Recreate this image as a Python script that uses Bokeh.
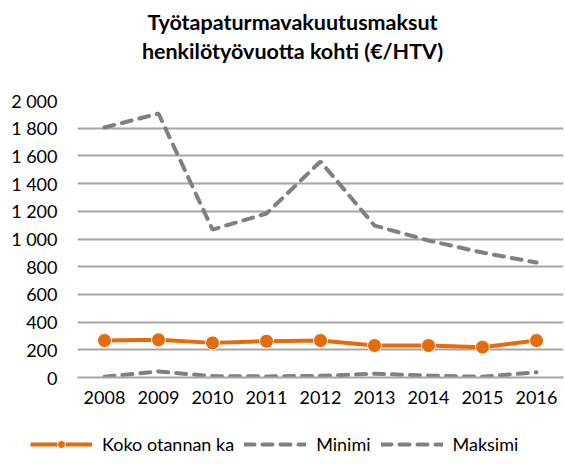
from bokeh.plotting import figure
from bokeh.layouts import column
from bokeh.models import FixedTicker, Label, Legend, LegendItem
from bokeh.embed import file_html
from bokeh.resources import INLINE

years = ["2008", "2009", "2010", "2011", "2012", "2013", "2014", "2015", "2016"]
koko_ka = [267, 272, 250, 262, 267, 231, 231, 219, 267]
minimi = [5, 43, 10, 8, 12, 27, 14, 5, 38]
maksimi = [1805, 1906, 1068, 1184, 1560, 1097, 989, 902, 830]
y_ticks = [0, 200, 400, 600, 800, 1000, 1200, 1400, 1600, 1800, 2000]
y_tick_labels = ["0", "200", "400", "600", "800", "1 000", "1 200", "1 400", "1 600", "1 800", "2 000"]
title_lines = ["Työtapaturmavakuutusmaksut", "henkilötyövuotta kohti (€/HTV)"]
series_names = ["Koko otannan ka", "Minimi", "Maksimi"]

FONT = "Lato"
ORANGE = "#E46C0A"
GREY = "#808080"
GRID = "#A6A6A6"
DASH = "10 8"


def bare(h, x_range=(0, 1), y_range=(0, 1)):
    f = figure(width=565, height=h, x_range=x_range, y_range=y_range,
               x_axis_type=None, y_axis_type=None,
               output_backend="svg", toolbar_location=None,
               min_border=0)
    f.outline_line_color = None
    f.grid.visible = False
    return f


# --- title ---
pt = bare(80)
for txt, yy in zip(title_lines, [59, 30]):
    pt.add_layout(Label(x=292, y=yy, x_units="screen", y_units="screen", text=txt,
                        text_align="center", text_baseline="middle",
                        text_font=FONT, text_font_style="bold",
                        text_font_size="21.5px", text_color="black"))

# --- main chart ---
p = figure(x_range=years, y_range=(0, 2000), width=565, height=345,
           output_backend="svg", toolbar_location=None,
           min_border_left=77, min_border_right=2,
           min_border_top=20, min_border_bottom=48)
p.outline_line_color = None

p.line(years, maksimi, line_color=GREY, line_width=4, line_dash=DASH, line_cap="round")
p.line(years, minimi, line_color=GREY, line_width=4, line_dash=DASH, line_cap="round")
p.line(years, koko_ka, line_color=ORANGE, line_width=4)
p.scatter(years, koko_ka, size=14, fill_color=ORANGE, line_color="white", line_width=1)

p.xgrid.grid_line_color = None
p.ygrid.grid_line_color = GRID
p.ygrid.grid_line_width = 2

p.yaxis.ticker = FixedTicker(ticks=y_ticks)
p.yaxis.major_label_overrides = {t: s for t, s in zip(y_ticks, y_tick_labels)}
p.yaxis.axis_line_color = None
p.yaxis.major_tick_line_color = None
p.yaxis.minor_tick_line_color = None
p.yaxis.major_label_standoff = 14
p.yaxis.major_label_text_font = FONT
p.yaxis.major_label_text_font_size = "18px"
p.yaxis.major_label_text_color = "black"

p.xaxis.axis_line_color = GRID
p.xaxis.axis_line_width = 2
p.xaxis.major_tick_line_color = None
p.xaxis.minor_tick_line_color = None
p.xaxis.major_label_standoff = 7
p.xaxis.major_label_text_font = FONT
p.xaxis.major_label_text_font_size = "18px"
p.xaxis.major_label_text_color = "black"

# --- legend strip (series drawn out of view; only the legend shows) ---
pl = bare(39, x_range=years, y_range=(-2, -1))
r_avg_l = pl.line(years, koko_ka, line_color=ORANGE, line_width=4)
r_avg_s = pl.scatter(years, koko_ka, size=10, fill_color=ORANGE, line_color="white", line_width=1)
r_min = pl.line(years, minimi, line_color=GREY, line_width=4, line_dash=DASH, line_cap="round")
r_max = pl.line(years, maksimi, line_color=GREY, line_width=4, line_dash=DASH, line_cap="round")
legend = Legend(items=[LegendItem(label=series_names[0], renderers=[r_avg_l, r_avg_s]),
                       LegendItem(label=series_names[1], renderers=[r_min]),
                       LegendItem(label=series_names[2], renderers=[r_max])],
                orientation="horizontal", location=(30, 9),
                glyph_width=62, glyph_height=20, label_standoff=10, spacing=10,
                padding=0, margin=0, border_line_color=None,
                background_fill_alpha=0,
                label_text_font=FONT, label_text_font_size="18px",
                label_text_color="black")
pl.add_layout(legend, "center")

layout = column(column(pt), p, column(pl), spacing=0)
open("out.html", "w").write(file_html(layout, INLINE))
